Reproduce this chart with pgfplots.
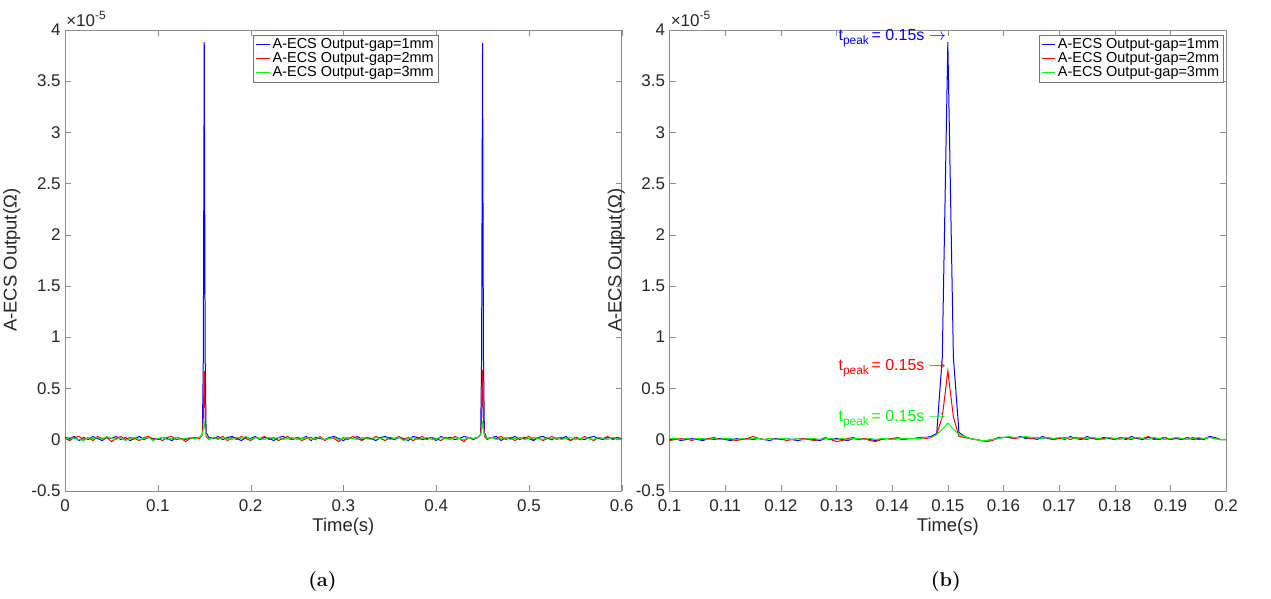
\documentclass[border=0pt]{standalone}
\usepackage{pgfplots}
\pgfplotsset{compat=1.18}
\usepackage{pgfplotstable}
\usepackage{fontspec}
\setmainfont{Liberation Sans}
\newfontfamily\lmr{Latin Modern Roman}
\newcommand{\tpk}{t\raisebox{-0.5ex}{\fontsize{12}{13}\selectfont peak}\,= 0.15s $\rightarrow$}
\pgfplotstableread{
x b r g
0 0.02 0.01 0.00
0.005 0.01 -0.01 0.02
0.01 0.03 0.02 0.01
0.015 -0.01 0.03 0.00
0.02 0.02 0.00 -0.01
0.025 0.00 0.02 0.02
0.03 0.03 -0.01 0.01
0.035 0.01 0.03 0.02
0.04 -0.01 0.01 0.00
0.045 0.02 0.02 0.03
0.05 0.01 -0.02 0.01
0.055 0.03 0.01 0.00
0.06 0.00 0.03 0.02
0.065 0.02 0.00 -0.01
0.07 -0.01 0.02 0.01
0.075 0.01 0.01 0.02
0.08 0.03 -0.01 0.00
0.085 0.00 0.02 0.01
0.09 0.02 0.03 0.02
0.095 0.01 0.00 -0.01
0.1 0.00 0.01 0.01
0.105 0.02 -0.01 0.02
0.11 0.01 0.02 0.00
0.115 -0.01 0.03 0.01
0.12 0.02 0.00 0.02
0.125 0.01 0.01 0.00
0.13 0.00 -0.02 0.01
0.135 0.02 0.01 0.02
0.14 0.01 0.02 0.01
0.145 0.02 0.01 0.02
0.148 0.05 0.05 0.05
0.149 0.80 0.22 0.10
0.15 3.88 0.67 0.16
0.151 0.80 0.22 0.10
0.152 0.07 0.03 0.05
0.155 0.02 0.00 0.00
0.16 0.01 0.02 0.02
0.165 0.03 0.01 0.00
0.17 0.00 0.03 0.02
0.175 0.02 -0.01 0.01
0.18 0.03 0.02 0.00
0.185 0.01 0.00 0.02
0.19 -0.01 0.03 0.01
0.195 0.02 0.01 0.03
0.2 0.01 -0.01 0.00
0.205 0.03 0.02 0.02
0.21 0.00 0.01 0.01
0.215 0.02 0.03 0.00
0.22 0.01 0.00 0.02
0.225 -0.01 0.02 0.01
0.23 0.02 -0.01 0.02
0.235 0.03 0.01 0.00
0.24 0.01 0.03 0.01
0.245 0.00 0.00 0.02
0.25 0.02 0.02 0.00
0.255 0.01 -0.01 0.01
0.26 0.03 0.01 0.02
0.265 -0.01 0.02 0.00
0.27 0.02 0.00 0.01
0.275 0.01 0.03 0.02
0.28 0.00 -0.01 0.00
0.285 0.02 0.02 0.01
0.29 0.03 0.01 0.02
0.295 0.01 -0.02 0.00
0.3 -0.01 0.02 0.01
0.305 0.02 0.00 0.02
0.31 0.01 0.03 0.01
0.315 0.03 0.01 0.00
0.32 0.00 -0.01 0.02
0.325 0.02 0.02 0.01
0.33 0.01 0.00 0.00
0.335 -0.01 0.03 0.02
0.34 0.02 0.01 0.01
0.345 0.03 -0.01 0.02
0.35 0.01 0.02 0.00
0.355 0.00 0.01 0.01
0.36 0.02 0.03 0.02
0.365 0.01 0.00 -0.01
0.37 -0.01 0.02 0.01
0.375 0.03 -0.01 0.02
0.38 0.02 0.01 0.00
0.385 0.00 0.03 0.01
0.39 0.01 0.00 0.02
0.395 0.02 0.02 0.00
0.4 -0.01 0.01 0.01
0.405 0.03 -0.01 0.02
0.41 0.01 0.02 0.01
0.415 0.02 0.00 0.00
0.42 0.00 0.03 0.02
0.425 0.01 0.01 0.01
0.43 0.03 -0.02 0.00
0.435 0.02 0.02 0.02
0.44 0.00 0.01 0.01
0.445 0.02 0.02 0.02
0.448 0.05 0.05 0.05
0.449 0.80 0.22 0.10
0.45 3.87 0.68 0.16
0.451 0.80 0.22 0.10
0.452 0.07 0.03 0.05
0.455 0.01 0.00 0.01
0.46 0.02 0.02 0.02
0.465 0.03 0.01 0.00
0.47 -0.01 0.03 0.01
0.475 0.02 0.00 0.02
0.48 0.01 0.02 0.00
0.485 0.03 -0.01 0.01
0.49 0.00 0.02 0.02
0.495 0.02 0.01 0.00
0.5 0.01 0.03 0.01
0.505 -0.01 0.00 0.02
0.51 0.02 0.02 0.01
0.515 0.03 -0.01 0.00
0.52 0.01 0.01 0.02
0.525 0.00 0.03 0.01
0.53 0.02 0.00 0.02
0.535 0.01 0.02 0.00
0.54 0.03 0.01 0.01
0.545 -0.01 -0.01 0.02
0.55 0.02 0.02 0.00
0.555 0.01 0.00 0.01
0.56 0.00 0.03 0.02
0.565 0.02 0.01 0.01
0.57 0.03 -0.01 0.00
0.575 0.01 0.02 0.02
0.58 0.00 0.01 0.01
0.585 0.02 0.03 0.00
0.59 0.01 0.00 0.02
0.595 0.02 0.01 0.01
0.6 0.01 0.00 0.00
}\lefttab
\pgfplotstableread{
x b r g
0.100 0.00 -0.01 0.01
0.101 0.01 0.00 0.01
0.102 -0.01 0.01 0.00
0.103 0.00 0.01 0.01
0.104 0.01 -0.01 0.00
0.105 0.00 0.01 0.01
0.106 -0.01 0.00 0.01
0.107 0.01 0.01 0.00
0.108 0.00 0.02 0.01
0.109 0.01 0.00 0.00
0.110 0.00 0.01 0.01
0.111 -0.01 0.00 0.01
0.112 0.01 -0.01 0.00
0.113 0.00 0.00 0.01
0.114 0.01 0.01 0.00
0.115 0.00 0.03 0.01
0.116 0.01 0.01 0.01
0.117 0.00 0.00 0.00
0.118 -0.01 0.01 0.01
0.119 0.01 0.00 0.00
0.120 0.00 0.01 0.01
0.121 0.01 -0.01 0.01
0.122 0.00 0.00 0.00
0.123 -0.01 0.01 0.01
0.124 0.00 0.01 0.00
0.125 0.01 0.00 0.01
0.126 0.00 -0.01 0.01
0.127 -0.01 0.00 0.00
0.128 0.01 0.02 0.01
0.129 0.00 0.00 0.01
0.130 0.01 -0.02 0.00
0.131 0.00 -0.01 0.01
0.132 -0.01 0.01 0.00
0.133 0.01 0.02 0.01
0.134 0.00 0.00 0.01
0.135 0.01 0.01 0.00
0.136 0.00 -0.01 0.01
0.137 -0.01 -0.02 0.00
0.138 0.00 0.00 0.01
0.139 0.01 0.01 0.01
0.140 0.00 0.01 0.00
0.141 0.01 0.02 0.01
0.142 0.00 0.00 0.01
0.143 0.01 0.01 0.01
0.144 0.01 0.01 0.01
0.145 0.02 0.02 0.01
0.146 0.02 0.01 0.02
0.147 0.03 0.02 0.02
0.148 0.06 0.05 0.05
0.149 0.80 0.22 0.10
0.150 3.88 0.67 0.16
0.151 0.80 0.22 0.10
0.152 0.07 0.03 0.05
0.153 0.03 0.02 0.03
0.154 0.01 0.01 0.01
0.155 0.00 0.00 0.00
0.156 -0.01 -0.01 -0.01
0.157 -0.01 -0.02 -0.01
0.158 0.00 -0.01 0.00
0.159 0.01 0.02 0.01
0.160 0.02 0.02 0.02
0.161 0.02 0.02 0.03
0.162 0.01 0.01 0.02
0.163 0.03 0.02 0.02
0.164 0.01 0.02 0.03
0.165 0.02 0.01 0.02
0.166 0.00 0.02 0.02
0.167 0.03 0.01 0.01
0.168 0.01 0.02 0.02
0.169 0.00 0.00 0.01
0.170 0.02 0.01 0.02
0.171 0.00 0.02 0.01
0.172 0.03 0.00 0.02
0.173 0.01 0.02 0.01
0.174 0.00 0.01 0.02
0.175 0.03 0.00 0.01
0.176 0.01 0.02 0.02
0.177 0.00 0.00 0.01
0.178 0.02 0.01 0.00
0.179 0.01 0.02 0.02
0.180 0.00 0.00 0.01
0.181 0.02 0.02 0.00
0.182 0.00 0.01 0.02
0.183 0.03 0.00 0.01
0.184 0.01 0.02 0.02
0.185 0.00 0.01 0.01
0.186 0.02 0.03 0.00
0.187 0.01 0.00 0.02
0.188 0.00 0.01 0.01
0.189 0.02 0.02 0.00
0.190 0.00 0.00 0.01
0.191 0.01 0.02 0.02
0.192 0.00 0.01 0.01
0.193 0.02 0.00 0.00
0.194 0.00 0.02 0.01
0.195 0.01 0.00 0.02
0.196 0.00 0.01 0.01
0.197 0.03 0.02 0.02
0.198 0.02 0.01 0.01
0.199 0.00 0.00 0.00
0.200 0.00 0.00 0.00
}\righttab
\pgfplotsset{
  ecs/.style={
    scale only axis, width=558pt, height=462pt,
    ymin=-0.5, ymax=4, ytick={-0.5,0,...,4},
    yticklabels={-0.5,0,0.5,1,1.5,2,2.5,3,3.5,4},
    axis line style={black!45}, tick style={black!45},
    tick align=inside, tick pos=both, major tick length=6pt,
    tick label style={font=\fontsize{17}{19}\selectfont, text=black!85},
    xticklabel style={yshift=-5pt},
    yticklabel style={xshift=-1pt},
    label style={font=\fontsize{18.5}{20}\selectfont, text=black!85},
    xlabel={Time(s)}, ylabel={A-ECS Output(Ω)},
    xlabel style={yshift=0pt},
    ylabel style={yshift=4pt},
    /pgf/number format/assume math mode=true,
    legend style={font=\fontsize{14.5}{16}\selectfont, at={(0.995,0.99)}, anchor=north east,
      draw=black!55, row sep=-1.5pt, inner sep=2pt},
    legend cell align=left,
    legend image code/.code={\draw[#1] (0pt,0pt) -- (14pt,0pt);},
    every axis plot/.append style={line width=1pt},
  }
}
\begin{document}
\begin{tikzpicture}[x=1pt,y=1pt]
\path (0,0) rectangle (1271,600);
\begin{axis}[ecs, at={(62pt,108pt)}, anchor=south west,
  xmin=0, xmax=0.6, xtick={0,0.1,...,0.6}, xticklabels={0,0.1,0.2,0.3,0.4,0.5,0.6},
  legend style={at={(0.67,0.99)}}]
\addplot[blue] table[x=x,y=b]{\lefttab};
\addplot[red] table[x=x,y=r]{\lefttab};
\addplot[green] table[x=x,y=g]{\lefttab};
\legend{A-ECS Output-gap=1mm,A-ECS Output-gap=2mm,A-ECS Output-gap=3mm}
\end{axis}
\node[anchor=south west, font=\fontsize{17}{19}\selectfont, text=black!85, inner sep=1pt] at (62,572) {×10\raisebox{0.8ex}{\fontsize{12}{13}\selectfont -5}};
\begin{axis}[ecs, at={(668pt,108pt)}, anchor=south west,
  xmin=0.1, xmax=0.2, xtick={0.1,0.11,...,0.2},
  xticklabels={0.1,0.11,0.12,0.13,0.14,0.15,0.16,0.17,0.18,0.19,0.2}]
\addplot[blue] table[x=x,y=b]{\righttab};
\addplot[red] table[x=x,y=r]{\righttab};
\addplot[green] table[x=x,y=g]{\righttab};
\legend{A-ECS Output-gap=1mm,A-ECS Output-gap=2mm,A-ECS Output-gap=3mm}
\node[anchor=east, text=blue, font=\fontsize{16}{18}\selectfont, inner sep=1pt] at (axis cs:0.1499,3.92) {\tpk};
\node[anchor=east, text=red, font=\fontsize{16}{18}\selectfont, inner sep=1pt] at (axis cs:0.1499,0.70) {\tpk};
\node[anchor=east, text=green, font=\fontsize{16}{18}\selectfont, inner sep=1pt] at (axis cs:0.1499,0.20) {\tpk};
\end{axis}
\node[anchor=south west, font=\fontsize{17}{19}\selectfont, text=black!85, inner sep=1pt] at (668,572) {×10\raisebox{0.8ex}{\fontsize{12}{13}\selectfont -5}};
\node[font=\lmr\bfseries\fontsize{20}{22}\selectfont] at (320,17) {(a)};
\node[font=\lmr\bfseries\fontsize{20}{22}\selectfont] at (945,17) {(b)};
\end{tikzpicture}
\end{document}
